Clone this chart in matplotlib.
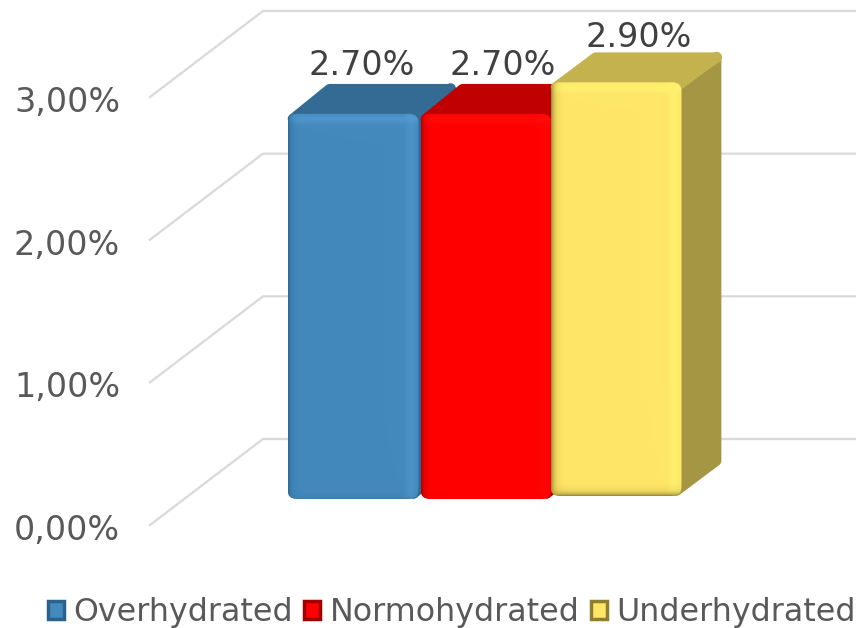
import numpy as np
import matplotlib
matplotlib.use("Agg")
import matplotlib.pyplot as plt
from matplotlib.patches import FancyBboxPatch, Polygon, Patch
from matplotlib.colors import to_rgb
from matplotlib.transforms import ScaledTranslation

# ---- data ----
categories = ["Overhydrated", "Normohydrated", "Underhydrated"]
values = [2.7, 2.7, 2.9]
value_labels = ["2.70%", "2.70%", "2.90%"]
y_ticks = [0, 1, 2, 3]
y_tick_labels = ["0,00%", "1,00%", "2,00%", "3,00%"]

# ---- styles ----
front_colors = ["#4389BC", "#FF0000", "#FFE666"]
top_colors = ["#336B94", "#C00000", "#C4B24E"]
side_colors = ["#2F6A94", "#B00000", "#A49643"]
dark_colors = ["#2A628C", "#A00000", "#8C8030"]
light_colors = ["#5BA5DC", "#FF2A2A", "#FFF270"]
top_light = [0.45, 0.2, 0.9]
right_light = [0.35, 0.1, 0.8]
left_dark = [0.9, 0.9, 1.0]
bottom_dark = [0.25, 0.1, 1.0]
grid_color = "#D9D9D9"
tick_color = "#595959"
label_color = "#404040"

W, H = 856, 628
PX_X = 132.5          # pixels per category
PX_Y = 142.67         # pixels per 1 %
fig = plt.figure(figsize=(W / 100, H / 100), dpi=100)
ax = fig.add_axes([150 / W, (H - 525) / H, (W - 150) / W, 513.6 / H])
ax.set_xlim((150 - 353) / PX_X, (W - 353) / PX_X)
ax.set_ylim(0, 3.6)
for s in ax.spines.values():
    s.set_visible(False)
ax.set_xticks([])
ax.set_yticks(y_ticks)
ax.set_yticklabels(y_tick_labels, fontsize=24, color=tick_color)
ax.tick_params(axis="y", length=0, pad=21.5)
shift = ScaledTranslation(0, -1.5 / 72, fig.dpi_scale_trans)
for t in ax.get_yticklabels():
    t.set_transform(t.get_transform() + shift)


def px(n):
    return n / PX_X


def py(n):
    return n / PX_Y


# 3D wall gridlines
xmin = ax.get_xlim()[0]
xmax = ax.get_xlim()[1]
wall_x, wall_y = px(113), py(86)
for v in y_ticks:
    ax.plot([xmin, xmin + wall_x, xmax], [v, v + wall_y, v + wall_y],
            color=grid_color, lw=1.6, clip_on=False, zorder=1,
            solid_joinstyle="miter")


def blend(arr, col, w):
    return arr * (1 - w[..., None]) + col * w[..., None]


# 3D bars
bar_w = px(131)
centers = [0, 1.004, 1.985]
bases = [py(26), py(26), py(29)]
depth_x, depth_y = [px(37), px(37), px(40)], [py(30), py(30), py(30)]
r = px(9)
aspect = PX_X / PX_Y
ins_x, ins_y = px(5), py(5)
for i, v in enumerate(values):
    z = 2 + i
    x0 = centers[i] - bar_w / 2
    x1 = x0 + bar_w
    y0 = bases[i]
    y1 = y0 + v
    dx, dy = depth_x[i], depth_y[i]
    # side face
    ax.add_patch(Polygon([(x1 - ins_x, y0 + ins_y), (x1 + dx - ins_x, y0 + dy + ins_y),
                          (x1 + dx - ins_x, y1 + dy - ins_y), (x1 - ins_x, y1 - ins_y)],
                         closed=True, fc=side_colors[i], ec=side_colors[i],
                         lw=7, joinstyle="round", zorder=z))
    # lit bevel between top and side, then top face
    ax.plot([x1 - ins_x * 2, x1 + dx - ins_x], [y1 - ins_y, y1 + dy - ins_y],
            color=top_colors[i], lw=8, solid_capstyle="round", zorder=z + 0.05)
    ax.add_patch(Polygon([(x0 + ins_x, y1 - ins_y), (x0 + dx + ins_x, y1 + dy - ins_y),
                          (x1 + dx - ins_x, y1 + dy - ins_y), (x1 - ins_x, y1 - ins_y)],
                         closed=True, fc=top_colors[i], ec=top_colors[i],
                         lw=7, joinstyle="round", zorder=z + 0.1))
    # front face: image with bevel shading, clipped to rounded box
    nx, ny = int(bar_w * PX_X), int(v * PX_Y)
    xx = np.arange(nx)[None, :] + 0.5
    yy = np.arange(ny)[:, None] + 0.5
    one = np.ones((ny, nx))
    img = one[..., None] * np.array(to_rgb(front_colors[i]))
    dark = np.array(to_rgb(dark_colors[i]))
    light = np.array(to_rgb(light_colors[i]))
    img = blend(img, light, top_light[i] * np.exp(-((yy - 6) / 4.5) ** 2) * one)
    img = blend(img, light, right_light[i] * np.exp(-((nx - xx - 8) / 5) ** 2) * one)
    img = blend(img, dark, left_dark[i] * np.exp(-xx / 3.0) * one)
    img = blend(img, dark, bottom_dark[i] * np.exp(-(ny - yy) / 3.0) * one)
    im = ax.imshow(img, extent=[x0, x1, y0, y1], origin="upper", aspect="auto",
                   interpolation="bilinear", zorder=z + 0.2)
    box = FancyBboxPatch((x0, y0), bar_w, v,
                         boxstyle=f"round,pad=0,rounding_size={r}",
                         mutation_aspect=aspect, fc="none", ec="none",
                         transform=ax.transData, zorder=z + 0.2)
    ax.add_patch(box)
    im.set_clip_path(box)

ax.set_xlim(xmin, xmax)
ax.set_ylim(0, 3.6)

# value labels
label_dx = [px(9), px(17), px(23)]
label_dy = [py(2), py(2), py(-2)]
for i, v in enumerate(values):
    ax.text(centers[i] + label_dx[i], bases[i] + v + depth_y[i] + label_dy[i], value_labels[i],
            ha="center", va="bottom", fontsize=24, color=label_color, zorder=10)

# legend
handles = [Patch(facecolor=front_colors[i], edgecolor=dark_colors[i], lw=2.5,
                 label=categories[i]) for i in range(3)]
ax.legend(handles=handles, loc="lower center", ncol=3, frameon=False,
          bbox_to_anchor=(452 / W, 0), bbox_transform=fig.transFigure,
          fontsize=22.9, labelcolor=tick_color, handlelength=0.5, handleheight=0.5,
          handletextpad=0.3, columnspacing=0.36, borderaxespad=0, borderpad=0.0)

fig.savefig("out.png", dpi=100)
